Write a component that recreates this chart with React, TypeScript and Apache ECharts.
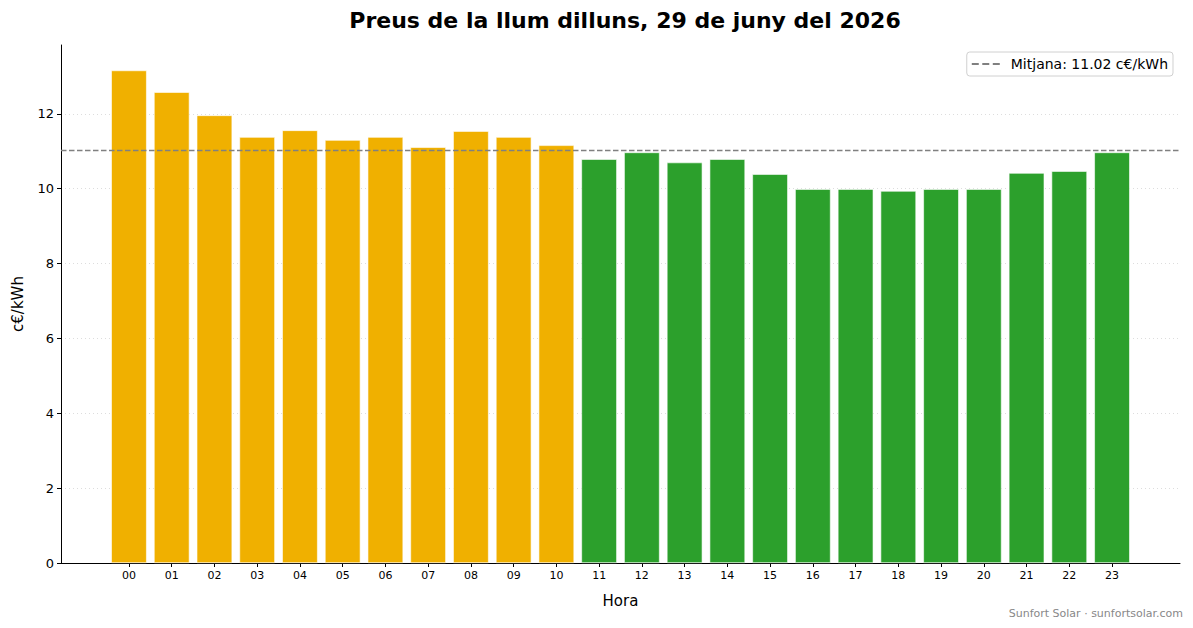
import React, { useEffect, useRef } from "react";
import * as echarts from "echarts";

const hours = [
  "00", "01", "02", "03", "04", "05", "06", "07", "08", "09", "10", "11",
  "12", "13", "14", "15", "16", "17", "18", "19", "20", "21", "22", "23",
];

// c€/kWh per hora
const prices = [
  13.16, 12.58, 11.96, 11.38, 11.56, 11.3, 11.38, 11.11, 11.54, 11.38, 11.16, 10.79,
  10.97, 10.7, 10.79, 10.39, 9.99, 9.99, 9.94, 9.99, 9.99, 10.42, 10.47, 10.97,
];

const mean = 11.02;
const yTicks = [0, 2, 4, 6, 8, 10, 12];

const ORANGE = "#f0b000";
const GREEN = "#2ca02c";
const FONT = "DejaVu Sans";

const App: React.FC = () => {
  const chartRef = useRef<HTMLDivElement | null>(null);

  useEffect(() => {
    const dom = chartRef.current;
    if (!dom) return;
    const chart = echarts.init(dom, null, { renderer: "svg" });

    const xIdx = hours.map((_, i) => i);
    const xMin = -1.59;
    const xMax = 24.59;

    chart.setOption({
      animation: false,
      textStyle: { fontFamily: FONT },
      title: {
        text: "Preus de la llum dilluns, 29 de juny del 2026",
        left: 620,
        top: 4,
        textAlign: "center",
        textStyle: { fontFamily: FONT, fontSize: 22, fontWeight: "bold", color: "#000" },
      },
      legend: {
        right: 20,
        top: 52,
        orient: "vertical",
        data: [
          {
            name: `Mitjana: ${mean.toFixed(2)} c€/kWh`,
            icon: "path://M0,0h7v2h-7zM10.5,0h7v2h-7zM21,0h7v2h-7z",
          },
        ],
        itemWidth: 28,
        itemHeight: 2,
        itemGap: 0,
        padding: [5, 5, 5, 5],
        borderColor: "#d0d0d0",
        borderWidth: 1,
        borderRadius: 3,
        backgroundColor: "rgba(255,255,255,0.8)",
        textStyle: { fontFamily: FONT, fontSize: 14, color: "#000", padding: [0, 0, 0, 6] },
      },
      grid: { left: 61, right: 13, top: 45, bottom: 65, containLabel: false },
      xAxis: {
        type: "value",
        min: xMin,
        max: xMax,
        name: "Hora",
        nameLocation: "middle",
        nameGap: 30,
        nameTextStyle: { fontFamily: FONT, fontSize: 15, color: "#000" },
        axisLine: { show: true, lineStyle: { color: "#000", width: 1 } },
        axisTick: { show: true, length: 4, customValues: xIdx, lineStyle: { color: "#000" } },
        axisLabel: {
          customValues: xIdx,
          formatter: (v: number) => hours[Math.round(v)] ?? "",
          fontFamily: FONT,
          fontSize: 11,
          color: "#000",
          margin: 7,
        },
        splitLine: { show: false },
      },
      yAxis: {
        type: "value",
        min: 0,
        max: 13.84,
        name: "c€/kWh",
        nameLocation: "middle",
        nameGap: 36,
        nameTextStyle: { fontFamily: FONT, fontSize: 15, color: "#000" },
        axisLine: { show: true, onZero: false, lineStyle: { color: "#000", width: 1 } },
        axisTick: { show: true, length: 4, customValues: yTicks, lineStyle: { color: "#000" } },
        axisLabel: {
          customValues: yTicks,
          fontFamily: FONT,
          fontSize: 13,
          color: "#000",
          margin: 7,
        },
        splitLine: { show: true, lineStyle: { color: "#dddddd", type: [1, 3], width: 1 } },
      },
      series: [
        {
          type: "bar",
          barWidth: 35.5,
          data: prices.map((p, i) => ({
            value: [i, p],
            itemStyle: { color: p > mean ? ORANGE : GREEN },
          })),
          itemStyle: { borderColor: "#ffffff", borderWidth: 0.6 },
          z: 2,
        },
        {
          type: "line",
          name: `Mitjana: ${mean.toFixed(2)} c€/kWh`,
          data: [
            [xMin, mean],
            [xMax, mean],
          ],
          symbol: "none",
          color: "#808080",
          lineStyle: { color: "#808080", width: 1.5, type: [5.5, 2.5] },
          z: 3,
        },
      ],
      graphic: [
        {
          type: "text",
          right: 10,
          bottom: 9,
          style: {
            text: "Sunfort Solar · sunfortsolar.com",
            fontFamily: FONT,
            fontSize: 11,
            fill: "#888888",
          },
        },
      ],
    });

    const onResize = () => chart.resize();
    window.addEventListener("resize", onResize);
    return () => {
      window.removeEventListener("resize", onResize);
      chart.dispose();
    };
  }, []);

  return (
    <div
      ref={chartRef}
      style={{ position: "fixed", left: 0, top: 0, width: "1193px", height: "628px", background: "#fff" }}
    ></div>
  );
};

export default App;
